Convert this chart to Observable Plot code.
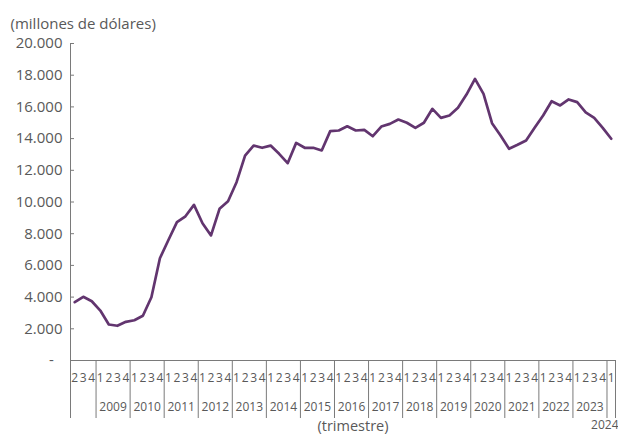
<!DOCTYPE html>
<html>
<head>
<meta charset="utf-8">
<script src="https://cdn.jsdelivr.net/npm/d3@7"></script>
<script src="https://cdn.jsdelivr.net/npm/@observablehq/plot@0.6"></script>
<style>
  html, body { margin: 0; padding: 0; background: #fff; }
  svg { font-family: "Open Sans", sans-serif; }
</style>
</head>
<body>
<div id="chart"></div>
<script>
// Quarterly series, 2008 Q2 – 2024 Q1 (millones de dólares)
const startYear = 2008;
const startQuarter = 2;
const values = [
  3680, 4020, 3740,                 // 2008 T2-T4
  3150, 2270, 2190, 2440,           // 2009
  2540, 2820, 3990, 6450,           // 2010
  7600, 8730, 9100, 9820,           // 2011
  8660, 7890, 9570, 10050,          // 2012
  11250, 12930, 13560, 13420,       // 2013
  13560, 13040, 12450, 13730,       // 2014
  13420, 13420, 13250, 14470,       // 2015
  14510, 14780, 14510, 14550,       // 2016
  14150, 14760, 14930, 15200,       // 2017
  15000, 14680, 15000, 15880,       // 2018
  15310, 15460, 15940, 16780,       // 2019
  17770, 16820, 14970, 14200,       // 2020
  13360, 13610, 13880, 14680,       // 2021
  15460, 16360, 16090, 16470,       // 2022
  16300, 15660, 15310, 14680,       // 2023
  13990                             // 2024 T1
];
const yTicks = [0, 2000, 4000, 6000, 8000, 10000, 12000, 14000, 16000, 18000, 20000];
const yLabel = "(millones de dólares)";
const xLabel = "(trimestre)";
// year labels shown under full-year groups (the partial 2008 group has none)
const shownYears = [2009, 2010, 2011, 2012, 2013, 2014, 2015, 2016, 2017, 2018, 2019, 2020, 2021, 2022, 2023];
const lastYearLabel = "2024";

const data = values.map((v, i) => {
  const q0 = startQuarter - 1 + i;
  return { i, v, year: startYear + Math.floor(q0 / 4), q: String((q0 % 4) + 1) };
});

// year group boundaries and centers
const boundaries = [-0.5];
for (let i = 1; i < data.length; i++) if (data[i].year !== data[i - 1].year) boundaries.push(i - 0.5);
boundaries.push(data.length - 0.5);
const yearCenters = shownYears.map(y => {
  const idx = data.filter(d => d.year === y).map(d => d.i);
  return { year: String(y), c: (idx[0] + idx[idx.length - 1]) / 2 };
});

const W = 618, H = 437, mT = 43, mB = 77, mL = 70, mR = 3;
const plotH = H - mT - mB;
const textColor = "#595959";
const axisColor = "#7a7a7a";
const lineColor = "#62356f";

const fmt = d => d === 0 ? "-\u2007" : d3.format(",")(d).replace(/,/g, ".");

const chart = Plot.plot({
  width: W,
  height: H,
  marginTop: mT,
  marginBottom: mB,
  marginLeft: mL,
  marginRight: mR,
  style: { fontFamily: "Open Sans, sans-serif", color: textColor, background: "#fff" },
  x: { type: "linear", domain: [-0.5, data.length - 0.5], axis: null },
  y: { domain: [0, 20000], axis: null },
  marks: [
    Plot.axisY(yTicks, {
      tickFormat: fmt,
      tickSize: -4,
      tickPadding: 12,
      fontSize: 15,
      fill: textColor,
      stroke: axisColor,
      label: null
    }),
    // left axis line (extends down into category bracket)
    Plot.ruleX([-0.5], { stroke: axisColor, strokeWidth: 1, insetBottom: -58 }),
    // year separators below the baseline
    Plot.ruleX(boundaries, { stroke: axisColor, strokeWidth: 1, insetTop: plotH, insetBottom: -58 }),
    // baseline
    Plot.ruleY([0], { stroke: axisColor, strokeWidth: 1 }),
    // series
    Plot.line(data, { x: "i", y: "v", stroke: lineColor, strokeWidth: 2.7, strokeLinejoin: "round" }),
    // quarter labels
    Plot.text(data, { x: "i", text: "q", frameAnchor: "bottom", dy: 21, fontSize: 12, fill: textColor }),
    // year labels
    Plot.text(yearCenters, { x: "c", text: "year", frameAnchor: "bottom", dy: 50, fontSize: 12, fill: textColor }),
    Plot.text([lastYearLabel], { x: () => data.length - 0.5, text: d => d, frameAnchor: "bottom", textAnchor: "end", dx: 3, dy: 68, fontSize: 12, fill: textColor }),
    // axis titles
    Plot.text([xLabel], { frameAnchor: "bottom", dx: 10, dy: 70, fontSize: 14.5, fill: textColor }),
    Plot.text([yLabel], { frameAnchor: "top-left", textAnchor: "start", dx: -60, dy: -25, fontSize: 15, fill: textColor })
  ]
});

document.getElementById("chart").appendChild(chart);
</script>
</body>
</html>
